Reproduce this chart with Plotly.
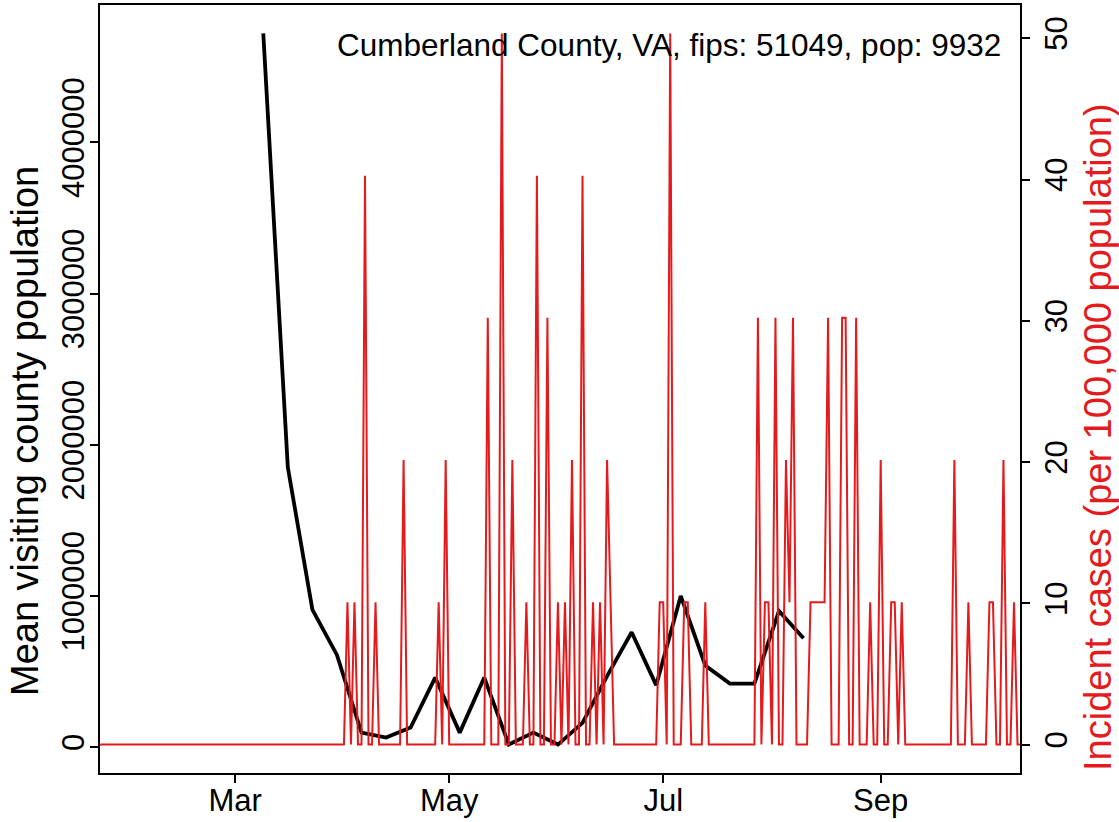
import plotly.graph_objects as go
import pandas as pd

# ---------------- data ----------------
title_text = "Cumberland County, VA, fips: 51049, pop: 9932"
left_label = "Mean visiting county population"
right_label = "Incident cases (per 100,000 population)"

# weekly mean visiting county population (black line)
week_dates = [
    "2020-03-09", "2020-03-16", "2020-03-23", "2020-03-30", "2020-04-06",
    "2020-04-13", "2020-04-20", "2020-04-27", "2020-05-04", "2020-05-11",
    "2020-05-18", "2020-05-25", "2020-06-01", "2020-06-08", "2020-06-15",
    "2020-06-22", "2020-06-29", "2020-07-06", "2020-07-13", "2020-07-20",
    "2020-07-27", "2020-08-03", "2020-08-10",
]
visiting_pop = [
    4720000, 1850000, 910000, 610000, 96000,
    63000, 130000, 460000, 96000, 460000,
    17000, 96000, 17000, 160000, 470000,
    760000, 410000, 1000000, 540000, 420000,
    420000, 900000, 720000,
]

# daily incident cases per 100,000 population (red line), starting 2020-01-22
daily_start = "2020-01-22"
incident_per_100k = [
    0, 0, 0, 0, 0, 0, 0, 0, 0, 0,
    0, 0, 0, 0, 0, 0, 0, 0, 0, 0,
    0, 0, 0, 0, 0, 0, 0, 0, 0, 0,
    0, 0, 0, 0, 0, 0, 0, 0, 0, 0,
    0, 0, 0, 0, 0, 0, 0, 0, 0, 0,
    0, 0, 0, 0, 0, 0, 0, 0, 0, 0,
    0, 0, 0, 0, 0, 0, 0, 0, 0, 0,
    0, 10.07, 0, 10.07, 0, 0, 40.27, 0, 0, 10.07,
    0, 0, 0, 0, 0, 0, 0, 20.14, 0, 0,
    0, 0, 0, 0, 0, 0, 0, 10.07, 0, 20.14,
    0, 0, 0, 0, 0, 0, 0, 0, 0, 0,
    0, 30.21, 0, 0, 0, 50.34, 0, 0, 20.14, 0,
    0, 0, 10.07, 0, 0, 40.27, 0, 0, 30.21, 0,
    0, 10.07, 0, 10.07, 0, 20.14, 0, 0, 40.27, 0,
    0, 10.07, 0, 10.07, 0, 20.14, 10.07, 0, 0, 0,
    0, 0, 0, 0, 0, 0, 0, 0, 0, 0,
    10.07, 10.07, 0, 50.34, 0, 0, 0, 10.07, 10.07, 0,
    0, 0, 0, 10.07, 0, 0, 0, 0, 0, 0,
    0, 0, 0, 0, 0, 0, 0, 0, 30.21, 0,
    10.07, 10.07, 0, 30.21, 0, 0, 20.14, 10.07, 30.21, 0,
    0, 0, 0, 10.07, 10.07, 10.07, 10.07, 10.07, 30.21, 0,
    0, 0, 30.21, 30.21, 0, 0, 30.21, 0, 0, 0,
    10.07, 0, 0, 20.14, 0, 0, 10.07, 10.07, 0, 10.07,
    0, 0, 0, 0, 0, 0, 0, 0, 0, 0,
    0, 0, 0, 0, 20.14, 0, 0, 0, 10.07, 0,
    0, 0, 0, 0, 10.07, 10.07, 0, 0, 20.14, 0,
    0, 10.07, 0, 0,
]

x_tick_dates = ["2020-03-01", "2020-05-01", "2020-07-01", "2020-09-01"]
x_tick_labels = ["Mar", "May", "Jul", "Sep"]
left_ticks = [0, 1000000, 2000000, 3000000, 4000000]
right_ticks = [0, 10, 20, 30, 40, 50]
x_range = ["2020-01-22 11:00", "2020-10-10 17:00"]

# ---------------- styling ----------------
RED = "#E41A1C"
FONT = "Liberation Sans, Arial, Helvetica, sans-serif"
TICK_SIZE = 31
LABEL_SIZE = 38
W, H = 1119, 822
ML, MR, MT, MB = 100, 99, 5, 49
PW, PH = W - ML - MR, H - MT - MB

daily_dates = pd.date_range(daily_start, periods=len(incident_per_100k), freq="D")


def r_range(vals):
    lo, hi = min(vals), max(vals)
    pad = 0.04 * (hi - lo)
    return [lo - pad, hi + pad]


def px_x(x):
    return (x - ML) / PW


def px_y(y):
    return (H - MB - y) / PH


fig = go.Figure()
fig.add_trace(go.Scatter(
    x=pd.to_datetime(week_dates), y=visiting_pop, mode="lines",
    line=dict(color="black", width=3.8), yaxis="y", showlegend=False,
))
fig.add_trace(go.Scatter(
    x=daily_dates, y=incident_per_100k, mode="lines",
    line=dict(color=RED, width=2), yaxis="y2", showlegend=False,
))

axis_common = dict(
    showgrid=False, zeroline=False, showline=True, linecolor="black",
    linewidth=1.7, ticks="outside", ticklen=8, tickwidth=1.7,
    tickcolor="black", automargin=False,
    tickfont=dict(family=FONT, size=TICK_SIZE, color="black"),
)

fig.update_layout(
    width=W, height=H,
    margin=dict(l=ML, r=MR, t=MT, b=MB, autoexpand=False),
    paper_bgcolor="white", plot_bgcolor="white",
    font=dict(family=FONT, color="black"),
    xaxis=dict(
        type="date", range=x_range, tickmode="array",
        tickvals=x_tick_dates, ticktext=x_tick_labels, mirror=True,
        ticklabelstandoff=-9,
        **axis_common,
    ),
    yaxis=dict(
        range=r_range(visiting_pop), tickmode="array", tickvals=left_ticks,
        ticktext=[str(v) for v in left_ticks], tickangle=-90, mirror=True,
        ticklabelstandoff=-6,
        **axis_common,
    ),
    yaxis2=dict(
        range=r_range(incident_per_100k), overlaying="y", side="right",
        tickmode="array", tickvals=right_ticks,
        ticktext=[str(v) for v in right_ticks], tickangle=-90,
        **axis_common,
    ),
    annotations=[
        dict(text=title_text, xref="paper", yref="paper",
             x=px_x(1003), y=px_y(45), xanchor="right", yanchor="middle",
             showarrow=False,
             font=dict(family=FONT, size=31.5, color="black")),
        dict(text=left_label, xref="paper", yref="paper",
             x=px_x(25), y=px_y(431), xanchor="center", yanchor="middle",
             textangle=-90, showarrow=False,
             font=dict(family=FONT, size=LABEL_SIZE, color="black")),
        dict(text=right_label, xref="paper", yref="paper",
             x=px_x(1098), y=px_y(437), xanchor="center", yanchor="middle",
             textangle=-90, showarrow=False,
             font=dict(family=FONT, size=LABEL_SIZE, color=RED)),
    ],
)

fig.write_html(
    "out.html",
    config={"displayModeBar": False},
    post_script="document.body.style.margin='0';document.body.style.overflow='hidden';",
)
